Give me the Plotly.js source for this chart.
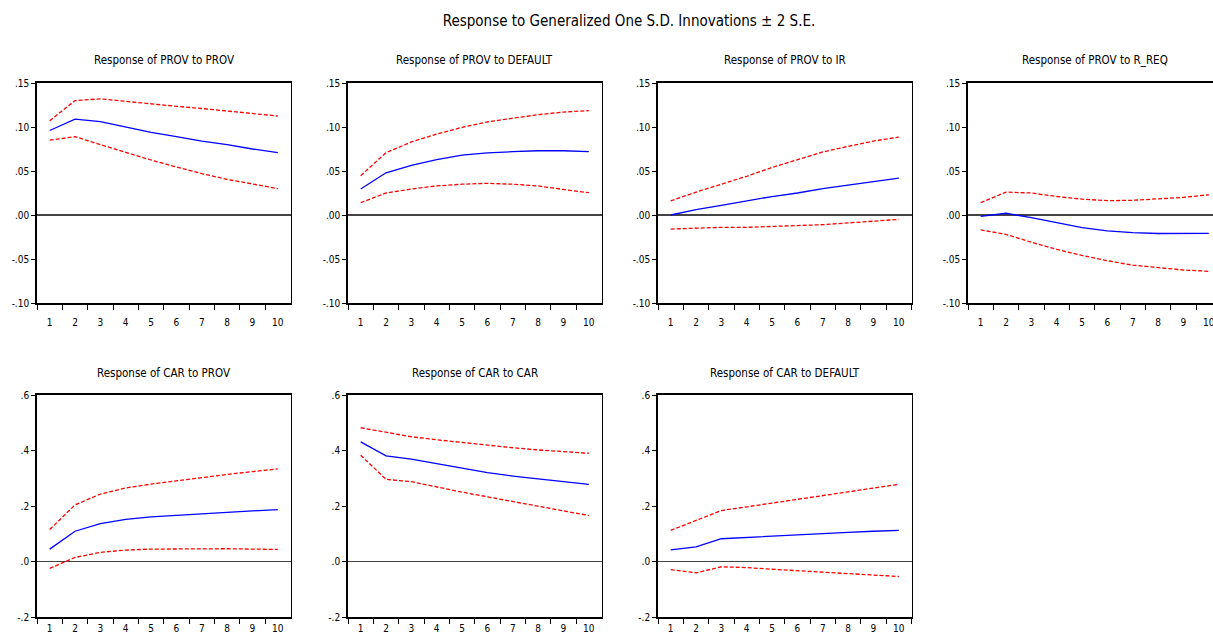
<!DOCTYPE html>
<html>
<head>
<meta charset="utf-8">
<script src="https://cdn.plot.ly/plotly-3.0.1.min.js"></script>
<style>
html,body{margin:0;padding:0;overflow:hidden;background:#fff;}
#chart{width:1224px;height:637px;}
</style>
</head>
<body>
<div id="chart"></div>
<script>
// Horizons
const periods = ['1','2','3','4','5','6','7','8','9','10'];

// Panel titles
const panelTitles = [
  'Response of PROV to PROV', 'Response of PROV to DEFAULT', 'Response of PROV to IR', 'Response of PROV to R_REQ',
  'Response of CAR to PROV', 'Response of CAR to CAR', 'Response of CAR to DEFAULT'
];

// Response of PROV to PROV
const provProv      = [0.096, 0.109, 0.106, 0.100, 0.094, 0.089, 0.084, 0.080, 0.075, 0.071];
const provProvUp    = [0.107, 0.130, 0.132, 0.129, 0.126, 0.1235, 0.121, 0.118, 0.1155, 0.1125];
const provProvLo    = [0.085, 0.089, 0.080, 0.071, 0.0625, 0.0545, 0.047, 0.0405, 0.035, 0.030];

// Response of PROV to DEFAULT
const provDef       = [0.0295, 0.048, 0.0565, 0.063, 0.068, 0.0705, 0.072, 0.073, 0.073, 0.072];
const provDefUp     = [0.0447, 0.0708, 0.083, 0.092, 0.0996, 0.1057, 0.110, 0.114, 0.117, 0.1186];
const provDefLo     = [0.014, 0.025, 0.0295, 0.033, 0.035, 0.036, 0.035, 0.033, 0.029, 0.0254];

// Response of PROV to IR
const provIr        = [0.000, 0.006, 0.011, 0.016, 0.021, 0.025, 0.030, 0.034, 0.038, 0.042];
const provIrUp      = [0.016, 0.026, 0.035, 0.044, 0.054, 0.063, 0.0716, 0.078, 0.084, 0.0886];
const provIrLo      = [-0.016, -0.015, -0.014, -0.014, -0.013, -0.012, -0.011, -0.009, -0.007, -0.005];

// Response of PROV to R_REQ
const provRreq      = [-0.0015, 0.002, -0.003, -0.009, -0.0144, -0.018, -0.020, -0.021, -0.021, -0.0208];
const provRreqUp    = [0.014, 0.026, 0.025, 0.021, 0.018, 0.0163, 0.0167, 0.018, 0.020, 0.023];
const provRreqLo    = [-0.017, -0.022, -0.031, -0.039, -0.046, -0.052, -0.057, -0.060, -0.0625, -0.064];

// Response of CAR to PROV
const carProv       = [0.0447, 0.109, 0.1366, 0.152, 0.161, 0.167, 0.173, 0.178, 0.1825, 0.187];
const carProvUp     = [0.115, 0.204, 0.243, 0.265, 0.279, 0.291, 0.303, 0.314, 0.324, 0.3335];
const carProvLo     = [-0.025, 0.0145, 0.033, 0.041, 0.0447, 0.046, 0.046, 0.046, 0.0447, 0.0435];

// Response of CAR to CAR
const carCar        = [0.431, 0.381, 0.3686, 0.352, 0.335, 0.320, 0.308, 0.297, 0.2876, 0.278];
const carCarUp      = [0.482, 0.4665, 0.4496, 0.4387, 0.429, 0.418, 0.410, 0.402, 0.396, 0.390];
const carCarLo      = [0.383, 0.296, 0.2876, 0.268, 0.250, 0.233, 0.216, 0.199, 0.1825, 0.1656];

// Response of CAR to DEFAULT
const carDef        = [0.042, 0.053, 0.082, 0.087, 0.092, 0.0955, 0.100, 0.105, 0.109, 0.112];
const carDefUp      = [0.112, 0.149, 0.1837, 0.197, 0.210, 0.2236, 0.238, 0.251, 0.2647, 0.278];
const carDefLo      = [-0.029, -0.041, -0.019, -0.022, -0.028, -0.033, -0.037, -0.0435, -0.0495, -0.054];

// Y tick labels
const provTickVals = [-0.10, -0.05, 0.00, 0.05, 0.10, 0.15];
const provTickText = ['-.10', '-.05', '.00', '.05', '.10', '.15'];
const carTickVals  = [-0.2, 0.0, 0.2, 0.4, 0.6];
const carTickText  = ['-.2', '.0', '.2', '.4', '.6'];

const panels = [
  [provProv, provProvUp, provProvLo, 'prov'],
  [provDef, provDefUp, provDefLo, 'prov'],
  [provIr, provIrUp, provIrLo, 'prov'],
  [provRreq, provRreqUp, provRreqLo, 'prov'],
  [carProv, carProvUp, carProvLo, 'car'],
  [carCar, carCarUp, carCarLo, 'car'],
  [carDef, carDefUp, carDefLo, 'car']
];

const W = 1224, H = 637;
const FONT = '"Liberation Sans Narrow", "Arial Narrow", "DejaVu Sans Condensed", "Liberation Sans", sans-serif';
const colLeft = [37, 348, 658, 968];
const plotW = 253.5;
const rowTopBot = [[83, 303], [395, 617]];
const titleY = [60, 373];
const xLabelStandoff = [9, 1];

const traces = [];
const layout = {
  width: W, height: H,
  margin: {l: 0, r: 0, t: 0, b: 0},
  paper_bgcolor: '#fff', plot_bgcolor: '#fff',
  showlegend: false,
  font: {family: FONT, size: 10, color: '#000'},
  title: {
    text: 'Response to Generalized One S.D. Innovations \u00b1 2 S.E.',
    font: {family: FONT, size: 15, color: '#000'},
    x: 629 / W, xanchor: 'center', xref: 'paper',
    y: 1 - 21 / H, yanchor: 'middle', yref: 'paper'
  },
  annotations: []
};

panels.forEach((p, i) => {
  const row = i < 4 ? 0 : 1;
  const col = i < 4 ? i : i - 4;
  const n = i + 1;
  const xa = 'x' + (n === 1 ? '' : n);
  const ya = 'y' + (n === 1 ? '' : n);
  const [mid, up, lo, kind] = p;
  traces.push({x: periods, y: up, xaxis: xa, yaxis: ya, type: 'scatter', mode: 'lines',
    line: {color: '#ff0000', width: 1.3, dash: '4px,2px'}});
  traces.push({x: periods, y: lo, xaxis: xa, yaxis: ya, type: 'scatter', mode: 'lines',
    line: {color: '#ff0000', width: 1.3, dash: '4px,2px'}});
  traces.push({x: periods, y: mid, xaxis: xa, yaxis: ya, type: 'scatter', mode: 'lines',
    line: {color: '#0000ff', width: 1.3}});

  const left = colLeft[col];
  const [top, bot] = rowTopBot[row];
  const xKey = 'xaxis' + (n === 1 ? '' : n);
  const yKey = 'yaxis' + (n === 1 ? '' : n);
  layout[xKey] = {
    domain: [left / W, (left + plotW) / W],
    anchor: ya,
    type: 'category',
    categoryorder: 'array', categoryarray: periods,
    range: [-0.5, 9.5],
    tickson: 'boundaries',
    ticks: 'outside', ticklen: 5, tickwidth: 1, tickcolor: '#000',
    ticklabelstandoff: xLabelStandoff[row],
    showline: true, linecolor: '#000', linewidth: 1.8, mirror: true,
    showgrid: false, zeroline: false,
    tickfont: {family: FONT, size: 10, color: '#000'},
    fixedrange: true
  };
  layout[yKey] = {
    domain: [1 - bot / H, 1 - top / H],
    anchor: xa,
    range: kind === 'prov' ? [-0.10, 0.15] : [-0.2, 0.6],
    tickmode: 'array',
    tickvals: kind === 'prov' ? provTickVals : carTickVals,
    ticktext: kind === 'prov' ? provTickText : carTickText,
    ticks: 'outside', ticklen: 4, tickwidth: 1, tickcolor: '#000',
    showline: true, linecolor: '#000', linewidth: 1.8, mirror: true,
    showgrid: false,
    zeroline: true, zerolinecolor: '#444', zerolinewidth: 1.2,
    tickfont: {family: FONT, size: 10, color: '#000'},
    fixedrange: true
  };
  layout.annotations.push({
    text: panelTitles[i], showarrow: false,
    xref: 'paper', yref: 'paper',
    x: (left + plotW / 2) / W, y: 1 - titleY[row] / H,
    xanchor: 'center', yanchor: 'middle',
    font: {family: FONT, size: 11.5, color: '#000'}
  });
});

Plotly.newPlot('chart', traces, layout, {displayModeBar: false, staticPlot: true});
</script>
</body>
</html>
